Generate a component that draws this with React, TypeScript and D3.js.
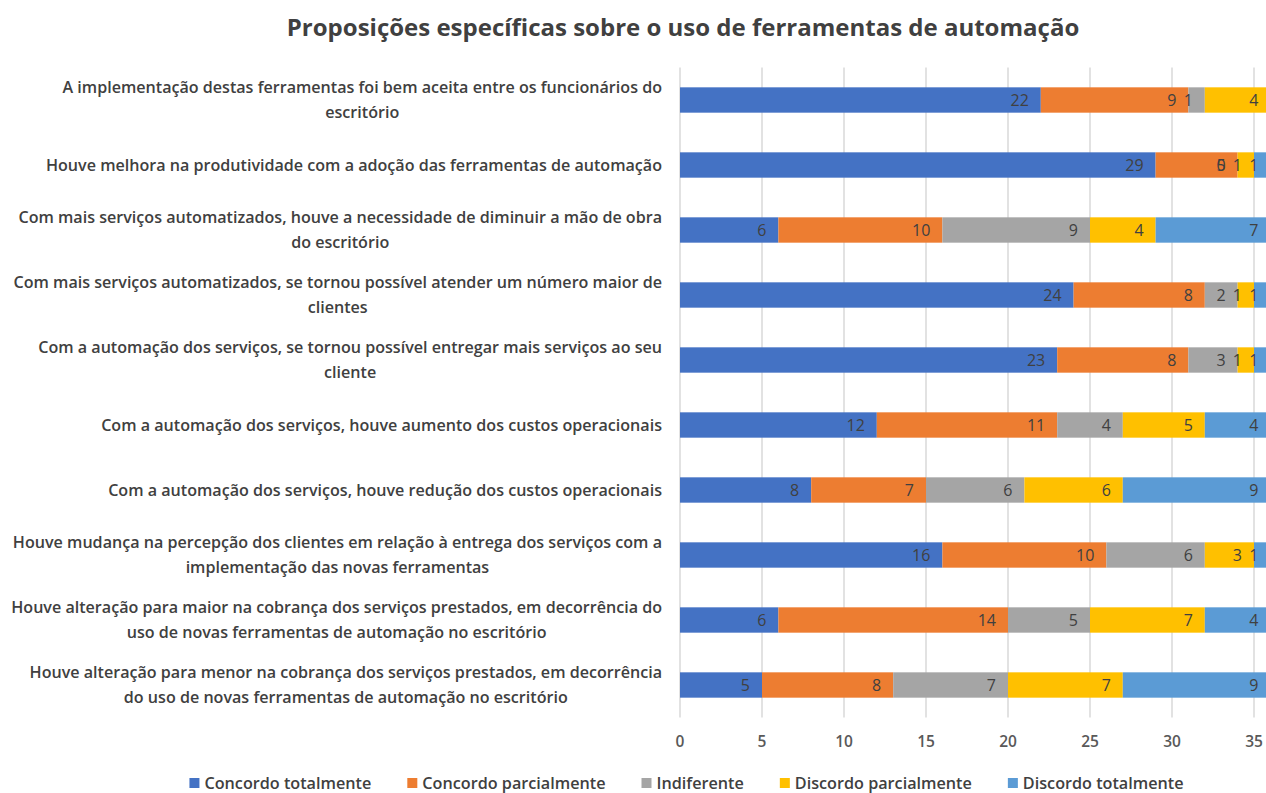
import React, { useEffect, useRef } from "react";
import * as d3 from "d3";

const TITLE = "Proposições específicas sobre o uso de ferramentas de automação";

const categories: string[][] = [
  ["A implementação destas ferramentas foi bem aceita entre os funcionários do", "escritório"],
  ["Houve melhora na produtividade com a adoção das ferramentas de automação"],
  ["Com mais serviços automatizados, houve a necessidade de diminuir a mão de obra", "do escritório"],
  ["Com mais serviços automatizados, se tornou possível atender um número maior de", "clientes"],
  ["Com a automação dos serviços, se tornou possível entregar mais serviços ao seu", "cliente"],
  ["Com a automação dos serviços, houve aumento dos custos operacionais"],
  ["Com a automação dos serviços, houve redução dos custos operacionais"],
  ["Houve mudança na percepção dos clientes em relação à entrega dos serviços com a", "implementação das novas ferramentas"],
  ["Houve alteração para maior na cobrança dos serviços prestados, em decorrência do", "uso de novas ferramentas de automação no escritório"],
  ["Houve alteração para menor na cobrança dos serviços prestados, em decorrência", "do uso de novas ferramentas de automação no escritório"],
];

const seriesNames = [
  "Concordo totalmente",
  "Concordo parcialmente",
  "Indiferente",
  "Discordo parcialmente",
  "Discordo totalmente",
];
const seriesColors = ["#4472C4", "#ED7D31", "#A5A5A5", "#FFC000", "#5B9BD5"];

const concordoTotalmente = [22, 29, 6, 24, 23, 12, 8, 16, 6, 5];
const concordoParcialmente = [9, 5, 10, 8, 8, 11, 7, 10, 14, 8];
const indiferente = [1, 0, 9, 2, 3, 4, 6, 6, 5, 7];
const discordoParcialmente = [4, 1, 4, 1, 1, 5, 6, 3, 7, 7];
const discordoTotalmente: (number | null)[] = [null, 1, 7, 1, 1, 4, 9, 1, 4, 9];

const xTicks = [0, 5, 10, 15, 20, 25, 30, 35];

const FONT = "'Open Sans', 'Noto Sans', sans-serif";

export default function App() {
  const ref = useRef<SVGSVGElement>(null);

  useEffect(() => {
    const svg = d3.select(ref.current);
    svg.selectAll("*").remove();

    const series = [concordoTotalmente, concordoParcialmente, indiferente, discordoParcialmente, discordoTotalmente];
    const idx = d3.range(categories.length);

    const x = d3.scaleLinear().domain([0, 35]).range([680, 1254]);
    const y = d3
      .scaleBand<number>()
      .domain(idx)
      .range([67.5, 717.5])
      .paddingInner(0.61)
      .paddingOuter(0.305);

    // title
    svg
      .append("text")
      .attr("x", 683)
      .attr("y", 36)
      .attr("text-anchor", "middle")
      .attr("font-family", FONT)
      .attr("font-weight", 700)
      .attr("font-size", 24)
      .attr("fill", "#404040")
      .text(TITLE);

    // gridlines
    svg
      .append("g")
      .selectAll("line")
      .data(xTicks)
      .join("line")
      .attr("x1", (d) => x(d))
      .attr("x2", (d) => x(d))
      .attr("y1", 67.5)
      .attr("y2", 717.5)
      .attr("stroke", "#D9D9D9")
      .attr("stroke-width", 1.5);

    // tick labels
    svg
      .append("g")
      .selectAll("text")
      .data(xTicks)
      .join("text")
      .attr("x", (d) => x(d))
      .attr("y", 742)
      .attr("dy", "0.35em")
      .attr("text-anchor", "middle")
      .attr("font-family", FONT)
      .attr("font-weight", 600)
      .attr("font-size", 15.5)
      .attr("fill", "#595959")
      .text((d) => String(d));

    // stacked bars
    const bh = y.bandwidth();
    idx.forEach((i) => {
      let acc = 0;
      series.forEach((s, k) => {
        const v = s[i];
        if (v === null || v === undefined) return;
        const x0 = acc;
        const x1 = acc + v;
        acc = x1;
        const yy = y(i)!;
        if (v > 0) {
          svg
            .append("rect")
            .attr("x", x(x0))
            .attr("y", yy)
            .attr("width", x(x1) - x(x0))
            .attr("height", bh)
            .attr("fill", seriesColors[k]);
        }
      });
    });

    // data labels
    idx.forEach((i) => {
      let acc = 0;
      series.forEach((s) => {
        const v = s[i];
        if (v === null || v === undefined) return;
        acc += v;
        svg
          .append("text")
          .attr("x", x(acc) - 12)
          .attr("y", y(i)! + bh / 2)
          .attr("dy", "0.36em")
          .attr("text-anchor", "end")
          .attr("font-family", FONT)
          .attr("font-size", 16)
          .attr("fill", "#404040")
          .text(String(v));
      });
    });

    // category labels
    idx.forEach((i) => {
      const lines = categories[i];
      const cy = y(i)! + bh / 2;
      const g = svg.append("g");
      const texts = lines.map((ln, j) =>
        g
          .append("text")
          .attr("y", cy + (j - (lines.length - 1) / 2) * 25)
          .attr("dy", "0.36em")
          .attr("text-anchor", "middle")
          .attr("font-family", FONT)
          .attr("font-weight", 600)
          .attr("font-size", 16.1)
          .attr("fill", "#404040")
          .text(ln)
      );
      const widths = texts.map((t) => (t.node() as SVGTextElement).getComputedTextLength());
      const maxW = d3.max(widths) || 0;
      const cx = 662 - maxW / 2;
      texts.forEach((t) => t.attr("x", cx));
    });

    // legend
    const lg = svg.append("g");
    const items = seriesNames.map((name, k) => {
      const gi = lg.append("g");
      gi.append("rect").attr("x", 0).attr("y", 778).attr("width", 10).attr("height", 10).attr("fill", seriesColors[k]);
      const t = gi
        .append("text")
        .attr("x", 15)
        .attr("y", 783)
        .attr("dy", "0.36em")
        .attr("font-family", FONT)
        .attr("font-weight", 600)
        .attr("font-size", 16.2)
        .attr("fill", "#404040")
        .text(name);
      const w = 15 + (t.node() as SVGTextElement).getComputedTextLength();
      return { gi, w };
    });
    const gap = 36;
    const total = d3.sum(items, (d) => d.w) + gap * (items.length - 1);
    let lx = 686.5 - total / 2;
    items.forEach((it) => {
      it.gi.attr("transform", `translate(${lx},0)`);
      lx += it.w + gap;
    });
  }, []);

  return (
    <svg
      ref={ref}
      width={1266}
      height={793}
      style={{ position: "absolute", left: 0, top: 0, background: "#fff" }}
    />
  );
}
